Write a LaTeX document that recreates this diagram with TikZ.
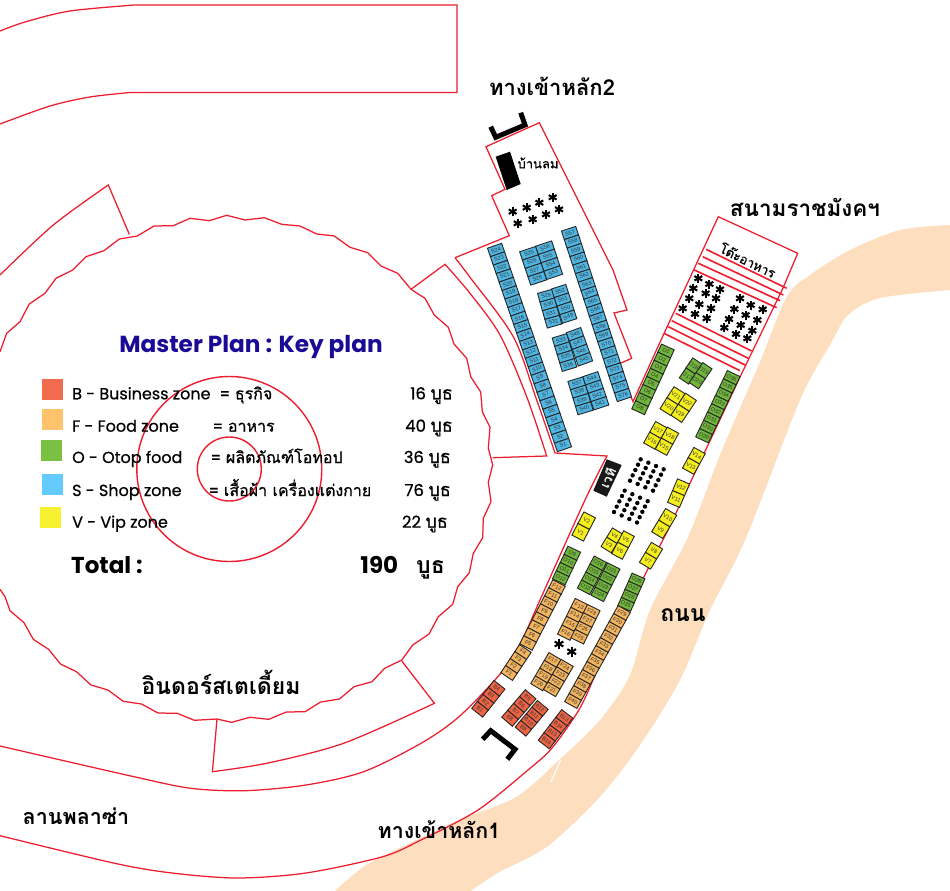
\documentclass[tikz,border=0pt]{standalone}
\usepackage{fontspec}
\newfontfamily\thfont[Script=Thai]{Loma}
\newfontfamily\thmed[Script=Thai,FakeBold=0.7]{Loma}
\newfontfamily\latfont{Poppins}
\newfontfamily\latmed[FakeBold=0.7]{Poppins}
\newfontfamily\boothfont{Liberation Sans}
\usetikzlibrary{calc}
\definecolor{planred}{HTML}{ED1C2E}
\definecolor{road}{HTML}{FDDFBF}
\definecolor{titleblue}{HTML}{1A0A96}
\definecolor{swB}{HTML}{F26B4E}
\definecolor{swF}{HTML}{FFC46B}
\definecolor{swO}{HTML}{7AC143}
\definecolor{swS}{HTML}{63CBFF}
\definecolor{swV}{HTML}{F7F131}
\definecolor{bB}{HTML}{EE6344}
\definecolor{bF}{HTML}{F3B45E}
\definecolor{bO}{HTML}{6FB63A}
\definecolor{bS}{HTML}{4FB6E3}
\definecolor{bV}{HTML}{F5EE1E}
\tikzset{
  planline/.style={draw=planred,line width=1.25pt,line join=miter},
  stripe/.style={draw=planred,line width=1.6pt},
  booth/.style={draw=black!85,line width=0.9pt,minimum width=14pt,inner sep=0pt,font=\boothfont\fontsize{5.5}{5.5}\selectfont,text=black!80},
  Bbooth/.style={booth,fill=bB},
  Fbooth/.style={booth,fill=bF},
  Obooth/.style={booth,fill=bO},
  Sbooth/.style={booth,fill=bS},
  Vbooth/.style={booth,fill=bV},
  swatch/.style={draw=none,minimum width=21pt,minimum height=21pt,inner sep=0pt},
  biglabel/.style={font=\thfont\bfseries\fontsize{#1}{#1}\selectfont,inner sep=0pt},
  legend/.style={font=\latmed\fontsize{16}{16}\selectfont,anchor=base west,inner sep=0pt},
  legendth/.style={font=\thmed\fontsize{16}{16}\selectfont,anchor=base west,inner sep=0pt},
  countlabel/.style={font=\latmed\fontsize{16.5}{16}\selectfont,anchor=base east,inner sep=0pt},
  seat/.style={line width=2.1pt,black},
}
\newcommand\boothrow[6]{%
  \pgfmathsetmacro\rowang{atan2(#4-#2,#5-#3)}%
  \foreach \lab [count=\idx] in {#6} {\xdef\rowcount{\idx}}%
  \pgfmathsetmacro\rowstep{veclen(#4-#2,#5-#3)/max(\rowcount-1,1)}%
  \foreach \lab [count=\idx] in {#6} {%
    \pgfmathsetmacro\fracpos{(\idx-1)/max(\rowcount-1,1)}%
    \node[#1,rotate=\rowang,minimum height=\rowstep pt] (booth-\lab) at ({#2+\fracpos*(#4-#2)},{#3+\fracpos*(#5-#3)}) {\lab};%
  }%
}
\newcommand\seatstar[3]{%
  \foreach \rayang in {90,30,150} {\draw[seat] ($(#1,#2)+(\rayang:#3)$) -- ($(#1,#2)-(\rayang:#3)$);}%
}
\newcommand\buth{{\thmed\fontsize{18}{18}\selectfont บูธ}}
\begin{document}
\begin{tikzpicture}[x=1pt,y=-1pt]
\useasboundingbox (0,0) rectangle (950,891);
\fill[white] (0,0) rectangle (950,891);
% road
\fill[road] plot[smooth,tension=0.5] coordinates {(950,225) (900,230) (850,250) (810,275) (786.7,296.7) (758,366.7) (722,450) (688,537) (650,610) (630,675) (600,720) (562.6,756.7) (516.6,796.7) (459,820) (402,846.7) (363.6,866.7) (335,891)}
  -- plot[smooth,tension=0.5] coordinates {(470.7,891) (497.5,873) (547,846.7) (600,796.7) (640,745) (680,680) (710,610) (746,538) (800,400) (830,345) (848,315) (880,298) (950,290)} -- cycle;
\draw[white,line width=1pt] (560.7,760) -- (551,781.7);
% outlines
\draw[planline] plot[smooth] coordinates {(0,31) (25,22) (70,11) (135,5)} -- (457,5) -- (457,92.5) -- (130,92.5) -- plot[smooth] coordinates {(130,92.5) (90,97) (50,106) (0,124)};
\draw[planline] plot[smooth] coordinates {(0,275) (53.3,225) (108.3,185)} -- (129.3,234.3);
\draw[planline] plot coordinates {(0,351.7) (6.7,333.3) (20,321.7) (29.3,304) (45,293.3) (56,278.3) (72.7,270) (86,256.7) (104,250.7) (119.3,239) (137.3,236) (154,226) (173.3,225.7) (190,218.3) (209.3,220.7) (226.7,215.3) (245,220) (264.3,217.7) (281.7,224.3) (300,226) (316.7,234) (334.3,236) (350,247.3) (367.7,252.7) (381,266) (397.7,273.3) (411,289.3) (425,298.3) (434.3,315) (448.3,327.3) (454,344) (466.7,358.3) (470.7,376.7) (480.7,392) (482.3,411.7) (490,427.3) (488.3,448.3) (492.7,465) (488.3,482.3) (491,501.7) (483.3,518.3) (482.7,537.7) (473.3,553.3) (469.3,572.7) (457.7,586.7) (452.7,604.3) (438.3,616.7) (429,634) (412.7,645) (401.8,660) (384.6,668.3) (372,681.7) (354,686.7) (339.5,699) (320.7,702) (305,711.7) (286.3,712) (268.7,719.3) (250,717.3) (231.5,722.3) (217,719) (194.4,720.3) (177.2,713.3) (158,713) (141.6,704) (123.2,701.3) (108,690) (91,685) (76.5,671.7) (60.5,664) (48.6,649.3) (33.3,639.3) (24,622.7) (10,610.7) (5,596.7) (0,589.3)};
\draw[planline] (411,289.3) -- (445,264.3) -- plot[smooth] coordinates {(445,264.3) (470,293.3) (500,335) (526.7,396.7) (546.7,456)} -- (492.7,457.7);
\draw[planline] (401.8,661) -- (434.4,703.3) -- plot[smooth] coordinates {(434.4,703.3) (344.4,743) (268,763) (212.4,771.7)} -- (217,719);
\draw[planline] plot[smooth] coordinates {(455,257.7) (470,277.3) (513.3,336.7) (536.7,400) (555,453)} -- (607,456) -- plot[smooth] coordinates {(607,456) (585,500) (540,600) (522,640) (501,673) (459,716.7) (421,743.3) (363.6,771.7) (306,785) (245,790.7) (191,788.3) (134,776.7) (0,746)};
\draw[planline] (455,257.7) -- (509.3,235.7) -- (491.7,195.7) -- (505,189.3) -- (486,146.7) -- (539.3,122.7) -- (558,160) -- (613,270) -- (627,310) -- (614,313) -- (631.7,358.3) -- (618,364.3) -- (633,401.7) -- (661,340) -- (718.3,216.7) -- (797.7,253.3) -- (783,288) -- (740,377) -- (668,530) -- plot[smooth] coordinates {(668,530) (632,600) (622,620) (600,664) (580,708) (552,748) (528,770) (478,810) (421,840) (382.7,856.7) (306,873) (237,878) (172,873) (114.8,863.3) (0,835.7)};
% stripes
\foreach \ax/\ay/\bx/\by in {706/249.3/786.7/288.3, 702.7/256.7/783.3/295, 698.3/263.3/780/300.7, 694.3/270/776.7/307.7, 675.7/313.3/751.7/351, 671.7/320.7/748.3/358.3, 668.3/326.7/745/365, 664/333.3/740/370.7}
  {\draw[stripe] (\ax,\ay) -- (\bx,\by);}
% circles
\draw[planline,line width=1.4pt] (229.3,469) circle[radius=92.5];
\draw[planline,line width=1.4pt] (229.3,469) circle[radius=32];
% black elements
\fill[black] (495.7,156.7) -- (510,151.7) -- (520.7,184) -- (506.7,190) -- cycle;
\draw[black,line width=5pt,line join=miter] (490.7,126.7) -- (495.7,137.3) -- (525,125) -- (520.7,112.7);
\draw[black,line width=5pt,line join=miter] (482.7,739.3) -- (490.7,730.7) -- (515,749.3) -- (507.3,759.3);
\fill[black!90] (606.7,459.3) -- (621.7,465) -- (606.7,496.7) -- (593.3,490.7) -- cycle;
\node[font=\thfont\bfseries\fontsize{13}{13}\selectfont,text=white,rotate=65,inner sep=0pt] (vedi) at (607.5,478) {เวที};
% booths
\boothrow{Sbooth,minimum width=15pt}{496}{250}{563}{445}{S24,S23,S22,S21,S20,S19,S18,S17,S16,S15,S14,S13,S12,S11,S10,S9,S8,S7,S6,S5,S4,S3,S2,S1}
\boothrow{Sbooth,minimum width=16.8pt}{529}{253.3}{537.3}{278.3}{S25,S26,S27,S28}
\boothrow{Sbooth,minimum width=16.8pt}{545}{247.7}{553.3}{272.7}{S56,S55,S54,S53}
\boothrow{Sbooth,minimum width=15pt}{546}{295.7}{553.3}{321.7}{S29,S30,S31,S32}
\boothrow{Sbooth,minimum width=15pt}{560}{291}{568.3}{316.7}{S52,S51,S50,S49}
\boothrow{Sbooth,minimum width=15.2pt}{560.7}{340}{568.3}{365}{S33,S34,S35,S36}
\boothrow{Sbooth,minimum width=15.2pt}{575}{334.3}{584}{359.3}{S48,S47,S46,S45}
\boothrow{Sbooth,minimum width=15.8pt}{576.7}{383.3}{584.3}{408.3}{S37,S38,S39,S40}
\boothrow{Sbooth,minimum width=15.8pt}{591.7}{378.3}{600}{403.3}{S44,S43,S42,S41}
\boothrow{Sbooth,minimum width=15pt}{570}{233}{623}{395}{S57,S58,S59,S60,S61,S62,S63,S64,S65,S66,S67,S68,S69,S70,S71,S72,S73,S74,S75,S76}
\boothrow{Obooth}{666}{351}{640}{407.7}{O1,O2,O3,O4,O5,O6,O7,O8}
\boothrow{Obooth,minimum width=11.2pt}{694}{366}{687.3}{376}{O18,O17}
\boothrow{Obooth,minimum width=11.2pt}{704}{370.7}{697.3}{380.7}{O19,O20}
\boothrow{Obooth}{731.7}{377.7}{704}{435.7}{O36,O35,O34,O33,O32,O31,O30,O29}
\boothrow{Vbooth,minimum width=13pt}{676}{395.7}{669}{406.7}{V21,V20}
\boothrow{Vbooth,minimum width=13pt}{687.3}{402.3}{680}{413.3}{V22,V19}
\boothrow{Vbooth,minimum width=13pt}{658.3}{430}{652.3}{440.7}{V17,V16}
\boothrow{Vbooth,minimum width=13pt}{670}{435.7}{664}{446.7}{V18,V15}
\boothrow{Vbooth,minimum width=13pt}{696.7}{455.7}{691}{466}{V14,V13}
\boothrow{Vbooth,minimum width=13pt}{681}{487.3}{676}{499}{V12,V11}
\boothrow{Vbooth,minimum width=13pt}{667.7}{517.7}{660.7}{529.3}{V10,V9}
\boothrow{Vbooth,minimum width=13pt}{586.7}{520.7}{580.7}{532.3}{V2,V1}
\boothrow{Vbooth,minimum width=12pt}{614.7}{535.7}{609}{545}{V4,V3}
\boothrow{Vbooth,minimum width=12pt}{626}{539.3}{620}{550.7}{V5,V6}
\boothrow{Vbooth,minimum width=13pt}{654}{550.7}{648}{560.7}{V8,V7}
\boothrow{Obooth}{572.3}{553.3}{560.7}{577.7}{O9,O10,O11,O12}
\boothrow{Obooth}{598.3}{563.3}{585.7}{587.3}{O16,O15,O14,O13}
\boothrow{Obooth}{611.7}{570}{599.3}{594.3}{O21,O22,O23,O24}
\boothrow{Obooth}{636.7}{580}{626}{604.3}{O28,O27,O26,O25}
\boothrow{Fbooth}{557}{587}{528}{643}{F12,F11,F10,F9,F8,F7,F6,F5}
\boothrow{Fbooth}{523}{652}{509}{673}{F4,F3,F2,F1}
\boothrow{Fbooth}{579.3}{606}{566}{632.7}{F13,F14,F15,F16}
\boothrow{Fbooth}{591.7}{611.7}{579.3}{636.7}{F28,F27,F26,F25}
\boothrow{Fbooth}{552.7}{660}{539}{683.3}{F17,F18,F19,F20}
\boothrow{Fbooth}{565}{666.7}{551.7}{689.3}{F24,F23,F22,F21}
\boothrow{Fbooth}{622}{613}{573}{701}{F29,F30,F31,F32,F33,F34,F35,F36,F37,F38,F39,F40}
\boothrow{Bbooth}{496.7}{688.3}{480}{709.3}{B4,B3,B2,B1}
\boothrow{Bbooth}{527.7}{697.7}{510}{718.3}{B5,B6,B7,B8}
\boothrow{Bbooth}{540}{708.3}{523.3}{728.3}{B12,B11,B10,B9}
\boothrow{Bbooth}{564.3}{717.7}{546.7}{740.7}{B13,B14,B15,B16}
% seats
\foreach \zx/\zy in {188/305,230/293,268/278,308/262,203/340,248/328,288/313,327/298}
  {\seatstar{450+\zx/3}{110+\zy/3}{4.5}}
\foreach \zx/\zy in {205/205,238/222,270/238,190/235,227/250,258/265,178/265,208/283,243/295,158/295,195/312,230/325,330/265,362/285,398/298,313/297,347/315,382/330,297/327,332/345,367/362,283/353,318/372,352/385}
  {\seatstar{630+\zx/3}{210+\zy/3}{4.5}}
\foreach \zx/\zy in {297/72,335/95}
  {\seatstar{460+\zx/3}{620+\zy/3}{5}}
\foreach \di in {0,1,2,3} {\foreach \dj in {0,1,2,3,4} {
  \fill[black] ({590+(152+23*\di-8*\dj)/3},{340+(358+10*\di+16*\dj)/3}) circle[radius=2.2];
  \fill[black] ({590+(104+23*\di-8*\dj)/3},{340+(452+10.5*\di+16*\dj)/3}) circle[radius=2.2];
}}
% big labels
\node[biglabel=22] (entry2) at (552,86) {ทางเข้าหลัก2};
\node[biglabel=21.4] (entry1) at (439,830) {ทางเข้าหลัก1};
\node[biglabel=22.5] (rajamangala) at (805,207) {สนามราชมังคฯ};
\node[biglabel=23] (indoor) at (221,682) {อินดอร์สเตเดี้ยม};
\node[biglabel=21.5] (plaza) at (76,816) {ลานพลาซ่า};
\node[biglabel=23] (road1) at (683,615) {ถนน};
\node[font=\thmed\fontsize{13}{13}\selectfont,inner sep=0pt] (banlom) at (538,163) {บ้านลม};
\node[font=\thmed\fontsize{13}{13}\selectfont,inner sep=0pt,rotate=-26] (tables) at (748,260) {โต๊ะอาหาร};
% legend
\node[font=\latfont\bfseries\fontsize{23.2}{23}\selectfont,text=titleblue,inner sep=0pt,anchor=base] (title) at (251,352) {Master Plan : Key plan};
\node[swatch,fill=swB] (swb) at (52,389.7) {};
\node[swatch,fill=swF] (swf) at (52,419.7) {};
\node[swatch,fill=swO] (swo) at (51.7,450.8) {};
\node[swatch,fill=swS] (sws) at (52.8,484.7) {};
\node[swatch,fill=swV] (swv) at (50.8,517) {};
\node[legend] (lb) at (72,399.3) {B - Business zone};
\node[legend] (lf) at (72,431.7) {F - Food zone};
\node[legend] (lo) at (72,463) {O - Otop food};
\node[legend] (ls) at (72,496) {S - Shop zone};
\node[legend] (lv) at (72,527.7) {V - Vip zone};
\node[legendth] (tb) at (220,399.3) {= ธุรกิจ};
\node[legendth] (tf) at (213,431.7) {= อาหาร};
\node[legendth] (to) at (211,463) {= ผลิตภัณฑ์โอทอป};
\node[legendth] (ts) at (209,496) {= เสื้อผ้า เครื่องแต่งกาย};
\node[countlabel] (cb) at (453,399.3) {16 \buth};
\node[countlabel] (cf) at (453,431.7) {40 \buth};
\node[countlabel] (co) at (451,463) {36 \buth};
\node[countlabel] (cs) at (451,496) {76 \buth};
\node[countlabel] (cv) at (448,527.7) {22 \buth};
\node[font=\latfont\bfseries\fontsize{23}{23}\selectfont,anchor=base west,inner sep=0pt] (total) at (71,573) {Total :};
\node[font=\latfont\bfseries\fontsize{23}{23}\selectfont,anchor=base east,inner sep=0pt] (totaln) at (445,573) {190\hspace{18pt}{\thfont บูธ}};
\end{tikzpicture}
\end{document}
